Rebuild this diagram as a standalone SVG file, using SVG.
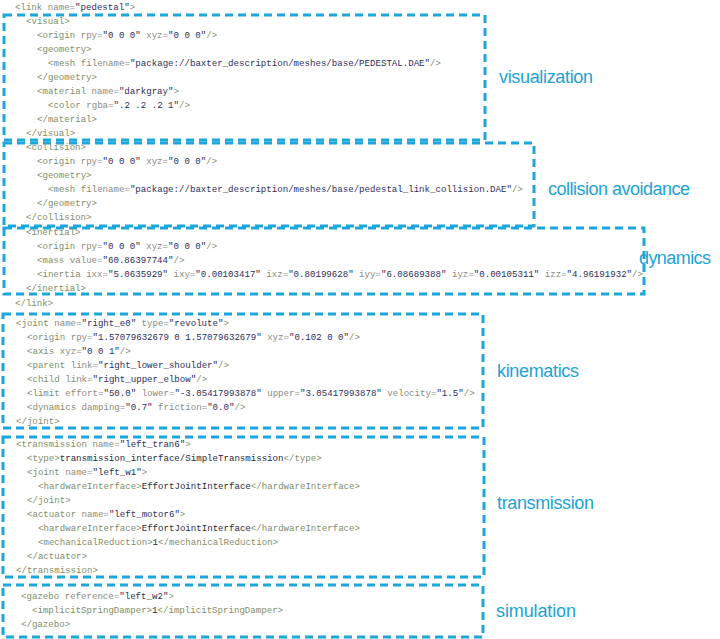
<svg xmlns="http://www.w3.org/2000/svg" width="720" height="639" viewBox="0 0 720 639">
<style>
.code{font-family:"Liberation Mono","DejaVu Sans Mono",monospace;font-size:9.1px;fill:#2e2e5c}
.t{fill:#7f8d6c}
.a{fill:#8a8a82}
.v{fill:#2e2e5c}
.c{fill:#2a2a3a}
.box{fill:none;stroke:#1ba6dc;stroke-width:3;stroke-dasharray:8 5}
.lbl{font-family:"Liberation Sans","Open Sans",sans-serif;font-size:18px;fill:#1ca3d6}
</style>
<rect width="720" height="639" fill="#ffffff"/>
<g id="link-header">
<text class="code" x="15" y="10" xml:space="preserve"><tspan class="t">&lt;link</tspan> <tspan class="a">name=</tspan><tspan class="v">"pedestal"</tspan><tspan class="t">&gt;</tspan></text>
<text class="code" x="15" y="306" xml:space="preserve"><tspan class="t">&lt;/link&gt;</tspan></text>
</g>
<g id="visualization">
<rect class="box" x="4" y="15" width="481" height="125"/>
<text class="code" x="26" y="24"><tspan class="t">&lt;visual&gt;</tspan></text>
<text class="code" x="37" y="38" xml:space="preserve"><tspan class="t">&lt;origin</tspan> <tspan class="a">rpy=</tspan><tspan class="v">"0 0 0"</tspan> <tspan class="a">xyz=</tspan><tspan class="v">"0 0 0"</tspan><tspan class="t">/&gt;</tspan></text>
<text class="code" x="37" y="52"><tspan class="t">&lt;geometry&gt;</tspan></text>
<text class="code" x="48" y="66" xml:space="preserve"><tspan class="t">&lt;mesh</tspan> <tspan class="a">filename=</tspan><tspan class="v">"package://baxter_description/meshes/base/PEDESTAL.DAE"</tspan><tspan class="t">/&gt;</tspan></text>
<text class="code" x="37" y="80"><tspan class="t">&lt;/geometry&gt;</tspan></text>
<text class="code" x="37" y="94" xml:space="preserve"><tspan class="t">&lt;material</tspan> <tspan class="a">name=</tspan><tspan class="v">"darkgray"</tspan><tspan class="t">&gt;</tspan></text>
<text class="code" x="48" y="108" xml:space="preserve"><tspan class="t">&lt;color</tspan> <tspan class="a">rgba=</tspan><tspan class="v">".2 .2 .2 1"</tspan><tspan class="t">/&gt;</tspan></text>
<text class="code" x="37" y="122"><tspan class="t">&lt;/material&gt;</tspan></text>
<text class="code" x="26" y="136"><tspan class="t">&lt;/visual&gt;</tspan></text>
<text class="lbl" x="499" y="83" textLength="94">visualization</text>
</g>
<g id="collision-avoidance">
<rect class="box" x="4" y="143" width="530" height="83"/>
<text class="code" x="26" y="150"><tspan class="t">&lt;collision&gt;</tspan></text>
<text class="code" x="37" y="164" xml:space="preserve"><tspan class="t">&lt;origin</tspan> <tspan class="a">rpy=</tspan><tspan class="v">"0 0 0"</tspan> <tspan class="a">xyz=</tspan><tspan class="v">"0 0 0"</tspan><tspan class="t">/&gt;</tspan></text>
<text class="code" x="37" y="178"><tspan class="t">&lt;geometry&gt;</tspan></text>
<text class="code" x="48" y="192" xml:space="preserve"><tspan class="t">&lt;mesh</tspan> <tspan class="a">filename=</tspan><tspan class="v">"package://baxter_description/meshes/base/pedestal_link_collision.DAE"</tspan><tspan class="t">/&gt;</tspan></text>
<text class="code" x="37" y="206"><tspan class="t">&lt;/geometry&gt;</tspan></text>
<text class="code" x="26" y="220"><tspan class="t">&lt;/collision&gt;</tspan></text>
<text class="lbl" x="548" y="195" textLength="142">collision avoidance</text>
</g>
<g id="dynamics">
<rect class="box" x="4" y="228" width="640" height="66"/>
<text class="code" x="26" y="235"><tspan class="t">&lt;inertial&gt;</tspan></text>
<text class="code" x="37" y="249" xml:space="preserve"><tspan class="t">&lt;origin</tspan> <tspan class="a">rpy=</tspan><tspan class="v">"0 0 0"</tspan> <tspan class="a">xyz=</tspan><tspan class="v">"0 0 0"</tspan><tspan class="t">/&gt;</tspan></text>
<text class="code" x="37" y="263" xml:space="preserve"><tspan class="t">&lt;mass</tspan> <tspan class="a">value=</tspan><tspan class="v">"60.86397744"</tspan><tspan class="t">/&gt;</tspan></text>
<text class="code" x="37" y="277" xml:space="preserve"><tspan class="t">&lt;inertia</tspan> <tspan class="a">ixx=</tspan><tspan class="v">"5.0635929"</tspan> <tspan class="a">ixy=</tspan><tspan class="v">"0.00103417"</tspan> <tspan class="a">ixz=</tspan><tspan class="v">"0.80199628"</tspan> <tspan class="a">iyy=</tspan><tspan class="v">"6.08689388"</tspan> <tspan class="a">iyz=</tspan><tspan class="v">"0.00105311"</tspan> <tspan class="a">izz=</tspan><tspan class="v">"4.96191932"</tspan><tspan class="t">/&gt;</tspan></text>
<text class="code" x="26" y="291"><tspan class="t">&lt;/inertial&gt;</tspan></text>
<text class="lbl" x="639" y="264" textLength="72">dynamics</text>
</g>
<g id="kinematics">
<rect class="box" x="3" y="314" width="480" height="114"/>
<text class="code" x="16" y="326" xml:space="preserve"><tspan class="t">&lt;joint</tspan> <tspan class="a">name=</tspan><tspan class="v">"right_e0"</tspan> <tspan class="a">type=</tspan><tspan class="v">"revolute"</tspan><tspan class="t">&gt;</tspan></text>
<text class="code" x="27" y="340" xml:space="preserve"><tspan class="t">&lt;origin</tspan> <tspan class="a">rpy=</tspan><tspan class="v">"1.57079632679 0 1.57079632679"</tspan> <tspan class="a">xyz=</tspan><tspan class="v">"0.102 0 0"</tspan><tspan class="t">/&gt;</tspan></text>
<text class="code" x="27" y="354" xml:space="preserve"><tspan class="t">&lt;axis</tspan> <tspan class="a">xyz=</tspan><tspan class="v">"0 0 1"</tspan><tspan class="t">/&gt;</tspan></text>
<text class="code" x="27" y="368" xml:space="preserve"><tspan class="t">&lt;parent</tspan> <tspan class="a">link=</tspan><tspan class="v">"right_lower_shoulder"</tspan><tspan class="t">/&gt;</tspan></text>
<text class="code" x="27" y="382" xml:space="preserve"><tspan class="t">&lt;child</tspan> <tspan class="a">link=</tspan><tspan class="v">"right_upper_elbow"</tspan><tspan class="t">/&gt;</tspan></text>
<text class="code" x="27" y="396" xml:space="preserve"><tspan class="t">&lt;limit</tspan> <tspan class="a">effort=</tspan><tspan class="v">"50.0"</tspan> <tspan class="a">lower=</tspan><tspan class="v">"-3.05417993878"</tspan> <tspan class="a">upper=</tspan><tspan class="v">"3.05417993878"</tspan> <tspan class="a">velocity=</tspan><tspan class="v">"1.5"</tspan><tspan class="t">/&gt;</tspan></text>
<text class="code" x="27" y="410" xml:space="preserve"><tspan class="t">&lt;dynamics</tspan> <tspan class="a">damping=</tspan><tspan class="v">"0.7"</tspan> <tspan class="a">friction=</tspan><tspan class="v">"0.0"</tspan><tspan class="t">/&gt;</tspan></text>
<text class="code" x="16" y="424"><tspan class="t">&lt;/joint&gt;</tspan></text>
<text class="lbl" x="497" y="377" textLength="82">kinematics</text>
</g>
<g id="transmission">
<rect class="box" x="3" y="437" width="481" height="140"/>
<text class="code" x="16" y="447" xml:space="preserve"><tspan class="t">&lt;transmission</tspan> <tspan class="a">name=</tspan><tspan class="v">"left_tran6"</tspan><tspan class="t">&gt;</tspan></text>
<text class="code" x="27" y="461"><tspan class="t">&lt;type&gt;</tspan><tspan class="c">transmission_interface/SimpleTransmission</tspan><tspan class="t">&lt;/type&gt;</tspan></text>
<text class="code" x="27" y="475" xml:space="preserve"><tspan class="t">&lt;joint</tspan> <tspan class="a">name=</tspan><tspan class="v">"left_w1"</tspan><tspan class="t">&gt;</tspan></text>
<text class="code" x="38" y="489"><tspan class="t">&lt;hardwareInterface&gt;</tspan><tspan class="c">EffortJointInterface</tspan><tspan class="t">&lt;/hardwareInterface&gt;</tspan></text>
<text class="code" x="27" y="503"><tspan class="t">&lt;/joint&gt;</tspan></text>
<text class="code" x="27" y="517" xml:space="preserve"><tspan class="t">&lt;actuator</tspan> <tspan class="a">name=</tspan><tspan class="v">"left_motor6"</tspan><tspan class="t">&gt;</tspan></text>
<text class="code" x="38" y="531"><tspan class="t">&lt;hardwareInterface&gt;</tspan><tspan class="c">EffortJointInterface</tspan><tspan class="t">&lt;/hardwareInterface&gt;</tspan></text>
<text class="code" x="38" y="545"><tspan class="t">&lt;mechanicalReduction&gt;</tspan><tspan class="c">1</tspan><tspan class="t">&lt;/mechanicalReduction&gt;</tspan></text>
<text class="code" x="27" y="559"><tspan class="t">&lt;/actuator&gt;</tspan></text>
<text class="code" x="16" y="573"><tspan class="t">&lt;/transmission&gt;</tspan></text>
<text class="lbl" x="497" y="509" textLength="97">transmission</text>
</g>
<g id="simulation">
<rect class="box" x="3" y="585" width="480" height="52"/>
<text class="code" x="21" y="599" xml:space="preserve"><tspan class="t">&lt;gazebo</tspan> <tspan class="a">reference=</tspan><tspan class="v">"left_w2"</tspan><tspan class="t">&gt;</tspan></text>
<text class="code" x="32" y="613"><tspan class="t">&lt;implicitSpringDamper&gt;</tspan><tspan class="c">1</tspan><tspan class="t">&lt;/implicitSpringDamper&gt;</tspan></text>
<text class="code" x="21" y="627"><tspan class="t">&lt;/gazebo&gt;</tspan></text>
<text class="lbl" x="496" y="617" textLength="80">simulation</text>
</g>
<g id="connectors"/>
</svg>
